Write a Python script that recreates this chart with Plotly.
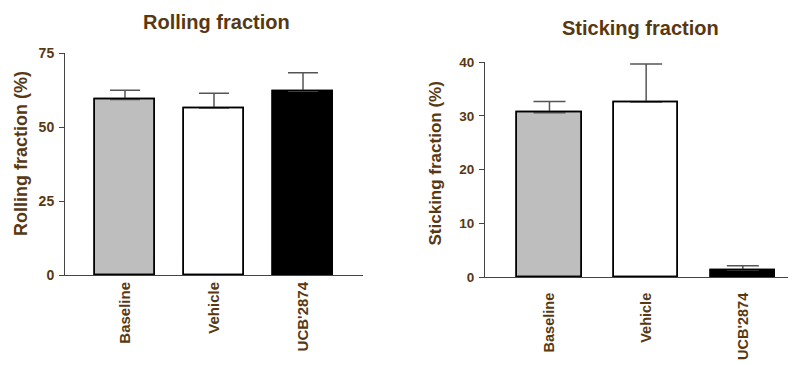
import plotly.graph_objects as go

categories = ["Baseline", "Vehicle", "UCB'2874"]
rolling_mean = [59.4, 56.5, 62.2]
rolling_sem = [3.1, 5.0, 6.2]
sticking_mean = [30.6, 32.6, 1.3]
sticking_sem = [2.1, 7.1, 0.8]
bar_colors = ["#BEBEBE", "#FFFFFF", "#000000"]

BROWN = "#583812"
FONT = "Arial, Liberation Sans, sans-serif"
# page body has an 8px margin; layout positions below are given in window pixels
OFF = 8
W, H = 796 - OFF, 365 - OFF


def px(x):
    return (x - OFF) / W


def py(y):
    return (365 - y) / H


fig = go.Figure()
xs = list(range(len(categories)))


def add_panel(means, sems, width, capw, xa, ya):
    fig.add_trace(go.Bar(
        x=xs, y=means, width=width,
        marker=dict(color=bar_colors, line=dict(color="#000000", width=1.5)),
        error_y=dict(type="data", symmetric=False, array=sems,
                     arrayminus=[0] * len(sems), color="#555555", thickness=1.5, width=capw),
        xaxis=xa, yaxis=ya, showlegend=False, hoverinfo="skip",
    ))
    # outline-only bars on top to hide the lower error-bar cap
    fig.add_trace(go.Bar(
        x=xs, y=means, width=width,
        marker=dict(color="rgba(0,0,0,0)", line=dict(color="#000000", width=1.6)),
        xaxis=xa, yaxis=ya, showlegend=False, hoverinfo="skip",
    ))


add_panel(rolling_mean, rolling_sem, 0.674, 15, "x", "y")
add_panel(sticking_mean, sticking_sem, 0.667, 16, "x2", "y2")


def xax(size, standoff):
    return dict(tickvals=xs, ticktext=categories, tickangle=-90, showgrid=False,
                zeroline=False, showline=True, linecolor="#444444", linewidth=1,
                ticks="", tickfont=dict(family=FONT, size=size, color=BROWN, weight="bold"),
                ticklabelstandoff=standoff, automargin=False, fixedrange=True)


def yax(size):
    return dict(showgrid=False, zeroline=False, showline=True, linecolor="#444444",
                linewidth=1, ticks="outside", ticklen=5, tickcolor="#444444",
                tickwidth=1, tickfont=dict(family=FONT, size=size, color=BROWN, weight="bold"),
                ticklabelstandoff=2, automargin=False, fixedrange=True)


fig.update_layout(
    width=W, height=H,
    margin=dict(l=0, r=0, t=0, b=0, autoexpand=False),
    paper_bgcolor="white", plot_bgcolor="white",
    barmode="overlay", bargap=0,
    xaxis=dict(domain=[px(65), px(363)], range=[-0.674, 2.674], anchor="y", **xax(15, 0)),
    yaxis=dict(domain=[py(275), py(53.3)], range=[0, 75],
               tickvals=[0, 25, 50, 75], anchor="x", **yax(14)),
    xaxis2=dict(domain=[px(485), 1.0], range=[-0.667, 2.55], anchor="y2", **xax(14.5, 9)),
    yaxis2=dict(domain=[py(277), py(62.3)], range=[0, 40],
                tickvals=[0, 10, 20, 30, 40], anchor="x2", **yax(13.5)),
    annotations=[
        dict(text="Rolling fraction", x=px(216), y=py(22), xref="paper", yref="paper",
             xanchor="center", yanchor="middle", showarrow=False,
             font=dict(family=FONT, size=20, color=BROWN, weight="bold")),
        dict(text="Sticking fraction", x=px(640), y=py(28), xref="paper", yref="paper",
             xanchor="center", yanchor="middle", showarrow=False,
             font=dict(family=FONT, size=20, color=BROWN, weight="bold")),
        dict(text="Rolling fraction (%)", x=px(21), y=py(154), xref="paper", yref="paper",
             xanchor="center", yanchor="middle", textangle=-90, showarrow=False,
             font=dict(family=FONT, size=18, color=BROWN, weight="bold")),
        dict(text="Sticking fraction (%)", x=px(435), y=py(163.5), xref="paper", yref="paper",
             xanchor="center", yanchor="middle", textangle=-90, showarrow=False,
             font=dict(family=FONT, size=17, color=BROWN, weight="bold")),
    ],
)

fig.write_html("out.html")
